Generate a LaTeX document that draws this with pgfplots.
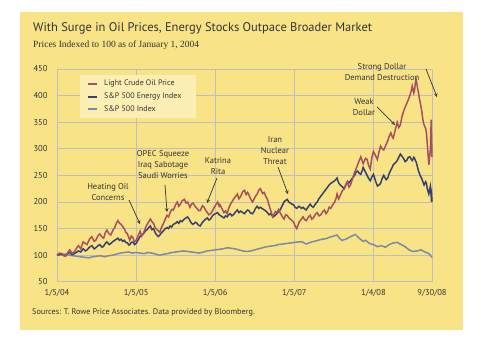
\documentclass[border=0pt]{standalone}
\usepackage{pgfplots}
\pgfplotsset{compat=1.18}
\usepackage{fontspec}
\setmainfont{PT Sans}
\newfontfamily\serifsub{Liberation Serif}
\definecolor{panel}{HTML}{F9E387}
\definecolor{legbg}{HTML}{FBEFB4}
\definecolor{grid}{HTML}{EFBF48}
\definecolor{oil}{HTML}{A5505C}
\definecolor{energy}{HTML}{36416E}
\definecolor{spx}{HTML}{7C89A8}
\definecolor{txt}{HTML}{333333}

\pgfplotstableread{
t v
0 100
0.03 104
0.063 103
0.09 99
0.11 98
0.14 106
0.16 110
0.19 104
0.22 106
0.25 114
0.27 118
0.30 112
0.33 125
0.36 122
0.38 120
0.41 130
0.44 135
0.47 126
0.49 128
0.52 137
0.54 140
0.57 134
0.59 132
0.61 142
0.63 147
0.66 140
0.68 138
0.71 148
0.73 152
0.75 160
0.77 165
0.79 160
0.81 158
0.83 154
0.85 150
0.87 143
0.89 140
0.91 132
0.92 128
0.94 136
0.96 133
0.98 125
1.0 128
1.03 138
1.05 145
1.07 136
1.09 140
1.12 152
1.14 158
1.16 163
1.18 168
1.20 163
1.22 160
1.24 152
1.25 150
1.28 146
1.30 143
1.32 152
1.34 158
1.37 168
1.39 175
1.41 172
1.43 180
1.45 186
1.47 185
1.50 195
1.52 200
1.54 192
1.56 196
1.58 202
1.61 205
1.63 198
1.65 200
1.67 194
1.68 190
1.70 196
1.72 198
1.75 191
1.77 188
1.79 184
1.81 184
1.84 193
1.86 190
1.88 184
1.90 180
1.92 176
1.94 178
1.96 182
1.97 185
2.00 193
2.03 200
2.05 192
2.06 195
2.09 186
2.11 180
2.13 183
2.15 178
2.17 188
2.19 195
2.21 200
2.23 205
2.26 211
2.28 215
2.30 206
2.32 210
2.35 220
2.37 222
2.39 214
2.41 218
2.43 212
2.44 208
2.47 200
2.49 205
2.51 211
2.53 215
2.55 222
2.57 225
2.60 216
2.62 218
2.64 210
2.66 205
2.68 194
2.70 185
2.72 176
2.73 172
2.76 182
2.78 180
2.80 186
2.82 180
2.85 172
2.87 168
2.89 176
2.91 175
2.93 170
2.95 168
2.97 165
2.99 162
3.01 155
3.03 150
3.05 158
3.06 162
3.09 168
3.11 172
3.13 167
3.15 165
3.18 172
3.20 175
3.22 168
3.24 170
3.27 178
3.29 180
3.31 174
3.33 175
3.36 182
3.38 185
3.40 178
3.42 182
3.44 190
3.46 188
3.49 196
3.51 200
3.53 208
3.54 215
3.56 206
3.58 212
3.61 222
3.63 225
3.65 232
3.67 238
3.69 228
3.71 232
3.74 246
3.76 255
3.78 262
3.80 270
3.82 278
3.84 285
3.86 276
3.87 272
3.90 282
3.92 280
3.94 268
3.96 262
3.98 284
4.0 295
4.03 286
4.05 280
4.07 294
4.09 305
4.11 300
4.13 298
4.16 308
4.18 315
4.20 324
4.22 330
4.24 322
4.25 320
4.28 338
4.30 350
4.32 340
4.34 345
4.36 360
4.38 370
4.40 378
4.42 385
4.44 392
4.46 400
4.48 410
4.49 418
4.51 405
4.52 410
4.53 425
4.54 430
4.56 412
4.57 405
4.58 395
4.59 388
4.61 372
4.62 360
4.63 350
4.64 345
4.66 338
4.67 330
4.68 310
4.69 290
4.70 270
4.71 285
4.72 300
4.73 355
4.735 320
4.74 285
}\oiltab

\pgfplotstableread{
t v
0 100
0.03 101
0.063 102
0.09 99
0.11 100
0.14 104
0.16 105
0.19 101
0.22 103
0.25 106
0.27 108
0.30 106
0.33 112
0.36 108
0.38 110
0.41 115
0.44 118
0.47 112
0.49 114
0.52 118
0.54 120
0.57 115
0.59 117
0.61 122
0.63 125
0.66 120
0.68 122
0.71 126
0.73 128
0.75 130
0.77 132
0.79 128
0.81 130
0.83 126
0.85 128
0.87 124
0.89 123
0.91 119
0.92 120
0.94 124
0.96 125
0.98 120
1.0 122
1.03 130
1.05 135
1.07 137
1.09 140
1.12 146
1.14 148
1.16 152
1.18 155
1.20 148
1.22 150
1.24 143
1.25 140
1.28 135
1.30 138
1.32 142
1.34 145
1.37 150
1.39 152
1.41 150
1.43 155
1.45 153
1.47 158
1.50 160
1.52 163
1.54 160
1.56 165
1.58 163
1.61 168
1.63 170
1.65 172
1.67 168
1.68 165
1.70 160
1.72 158
1.75 162
1.77 160
1.79 156
1.81 155
1.84 162
1.86 165
1.88 168
1.90 170
1.92 166
1.94 168
1.96 173
1.97 175
2.00 178
2.03 180
2.05 176
2.06 175
2.09 172
2.11 170
2.13 174
2.15 172
2.17 176
2.19 178
2.21 174
2.23 176
2.26 182
2.28 185
2.30 180
2.32 183
2.35 180
2.37 178
2.39 182
2.41 185
2.43 183
2.44 180
2.47 178
2.49 182
2.51 188
2.53 192
2.55 188
2.57 190
2.60 187
2.62 185
2.64 183
2.66 180
2.68 176
2.70 178
2.72 174
2.73 172
2.76 175
2.78 178
2.80 182
2.82 185
2.85 194
2.87 200
2.89 203
2.91 205
2.93 200
2.95 198
2.97 196
2.99 195
3.01 190
3.03 188
3.05 191
3.06 192
3.09 188
3.11 190
3.13 187
3.15 185
3.18 192
3.20 196
3.22 192
3.24 190
3.27 197
3.29 200
3.31 206
3.33 210
3.36 216
3.38 220
3.40 224
3.42 228
3.44 232
3.46 235
3.49 238
3.51 240
3.53 243
3.54 245
3.56 236
3.58 232
3.61 228
3.63 225
3.65 232
3.67 238
3.69 236
3.71 240
3.74 246
3.76 250
3.78 256
3.80 258
3.82 254
3.84 252
3.86 260
3.87 265
3.90 256
3.92 250
3.94 244
3.96 240
3.98 247
4.0 252
4.03 238
4.05 230
4.07 232
4.09 235
4.11 244
4.13 250
4.16 242
4.18 245
4.20 254
4.22 260
4.24 266
4.25 270
4.28 274
4.30 278
4.32 284
4.34 290
4.36 286
4.38 282
4.40 276
4.42 278
4.44 284
4.46 285
4.48 280
4.49 278
4.51 284
4.52 282
4.53 278
4.54 275
4.56 264
4.57 258
4.58 254
4.59 250
4.61 244
4.62 240
4.63 236
4.64 232
4.66 238
4.67 235
4.68 225
4.69 220
4.70 215
4.71 224
4.72 230
4.73 210
4.735 214
4.74 200
}\energytab

\pgfplotstableread{
t v
0 100
0.05 101
0.1 102
0.15 100
0.2 99
0.25 98
0.3 97
0.35 96
0.4 95
0.45 97
0.5 98
0.55 99
0.6 97
0.65 99
0.7 100
0.75 102
0.8 104
0.85 105
0.9 106
0.95 104
1.0 105
1.05 104
1.1 103
1.15 105
1.2 104
1.25 102
1.3 100
1.35 102
1.4 103
1.45 105
1.5 106
1.55 107
1.6 108
1.65 107
1.7 106
1.75 105
1.8 104
1.85 106
1.9 108
1.95 109
2.0 110
2.05 111
2.1 112
2.15 114
2.2 113
2.25 112
2.3 110
2.35 108
2.4 107
2.45 108
2.5 110
2.55 112
2.6 114
2.65 116
2.7 117
2.75 118
2.8 120
2.85 121
2.9 122
2.95 123
3.0 124
3.05 125
3.1 125
3.15 121
3.2 124
3.25 126
3.3 128
3.35 130
3.4 131
3.45 134
3.5 136
3.54 138
3.57 132
3.6 128
3.65 130
3.7 134
3.74 137
3.77 139
3.82 132
3.87 126
3.9 128
3.95 122
4.0 120
4.05 116
4.1 118
4.15 115
4.2 120
4.25 123
4.3 124
4.35 120
4.4 116
4.45 110
4.5 107
4.55 108
4.6 110
4.65 106
4.7 103
4.74 96
}\spxtab

\begin{document}
\begin{tikzpicture}[x=1pt,y=-1pt]
\fill[white] (0,0) rectangle (480,352);
\fill[panel] (20,12) rectangle (463,330);
\node[anchor=base west,inner sep=0pt,font=\fontsize{12.5}{14}\selectfont,text=txt] at (33,32) {With Surge in Oil Prices, Energy Stocks Outpace Broader Market};
\node[anchor=base west,inner sep=0pt,font=\serifsub\fontsize{9.5}{11}\selectfont,text=txt] at (33,48) {Prices Indexed to 100 as of January 1, 2004};
\begin{axis}[
  at={(57pt,-281.8pt)}, anchor=south west,
  scale only axis, width=375pt, height=212.8pt,
  xmin=0, xmax=4.74, ymin=50, ymax=450,
  axis line style={draw=none},
  ytick={50,100,...,450},
  xtick={0,1,2,3,4,4.74},
  xticklabels={1/5/04,1/5/05,1/5/06,1/5/07,1/4/08,9/30/08},
  tick style={draw=none},
  ymajorgrids, grid style={grid,line width=0.8pt},
  ticklabel style={font=\fontsize{8.5}{10}\selectfont,text=txt},
  /pgf/number format/assume math mode=true,
  yticklabel style={xshift=-6pt},
  xticklabel style={yshift=-4pt},
  clip=false,
]
\addplot[spx,line width=1.5pt] table[x=t,y=v] {\spxtab};
\addplot[energy,line width=1.5pt] table[x=t,y=v] {\energytab};
\addplot[oil,line width=1.5pt] table[x=t,y=v] {\oiltab};
\end{axis}
% legend
\fill[legbg] (80,75) rectangle (196,118);
\begin{scope}[font=\fontsize{8}{9.5}\selectfont,text=txt]
\draw[oil,line width=1.2pt] (88,84) -- (97,84);
\node[anchor=west,inner sep=0pt] at (104,84) {Light Crude Oil Price};
\draw[energy,line width=1.2pt] (88,97) -- (97,97);
\node[anchor=west,inner sep=0pt] at (104,97) {S\&P 500 Energy Index};
\draw[spx,line width=1.2pt] (88,109) -- (97,109);
\node[anchor=west,inner sep=0pt] at (104,109) {S\&P 500 Index};
\end{scope}
% annotations
\begin{scope}[font=\fontsize{8.5}{11}\selectfont,text=txt,align=center,inner sep=0pt]
\node at (108,192.5) {Heating Oil\\Concerns};
\draw[-stealth,txt,line width=0.7pt] (129,200) -- (140,224);
\node at (163,164.5) {OPEC Squeeze\\Iraq Sabotage\\Saudi Worries};
\draw[-stealth,txt,line width=0.7pt] (165,185) -- (167,212);
\node at (218,166) {Katrina\\Rita};
\draw[-stealth,txt,line width=0.7pt] (217,178) -- (207,203);
\node at (275,151) {Iran\\Nuclear\\Threat};
\draw[-stealth,txt,line width=0.7pt] (278,167) -- (288,194);
\node at (364,107) {Weak\\Dollar};
\draw[-stealth,txt,line width=0.7pt] (377,107) -- (395,125);
\node at (382,72.5) {Strong Dollar\\Demand Destruction};
\draw[-stealth,txt,line width=0.7pt] (426,69) -- (437,97);
\end{scope}
\node[anchor=base west,inner sep=0pt,font=\fontsize{8.2}{10}\selectfont,text=txt] at (32,315) {Sources: T. Rowe Price Associates. Data provided by Bloomberg.};
\end{tikzpicture}
\end{document}
